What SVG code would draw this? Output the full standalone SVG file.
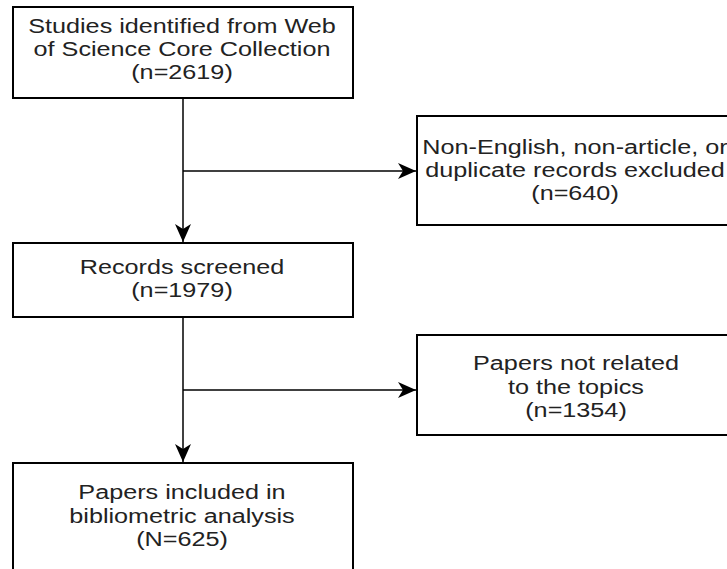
<svg xmlns="http://www.w3.org/2000/svg" width="727" height="569" viewBox="0 0 727 569">
<style>
.box{fill:#ffffff;stroke:#000000;stroke-width:2}
.edge{fill:none;stroke:#000000;stroke-width:1.5}
.t{font-family:"Liberation Sans",Arial,sans-serif;font-size:21px;fill:#222222;text-anchor:middle}
</style>
<defs>
<marker id="arr" markerUnits="userSpaceOnUse" markerWidth="20" markerHeight="18" refX="18" refY="8" orient="auto" viewBox="0 0 20 16">
<path d="M0,0 L18,8 L0,16 L5,8 Z" fill="#000000"/>
</marker>
</defs>
<rect width="727" height="569" fill="#ffffff"/>
<g id="connectors">
<line class="edge" x1="183" y1="98" x2="183" y2="242" marker-end="url(#arr)"/>
<line class="edge" x1="183" y1="171" x2="416" y2="171" marker-end="url(#arr)"/>
<line class="edge" x1="183" y1="317" x2="183" y2="462" marker-end="url(#arr)"/>
<line class="edge" x1="183" y1="390" x2="416" y2="390" marker-end="url(#arr)"/>
</g>
<g id="n1">
<rect class="box" x="13" y="7" width="340" height="91"/>
<text class="t" transform="translate(182,33) scale(1.2,1)">Studies identified from Web</text>
<text class="t" transform="translate(182,56) scale(1.2,1)">of Science Core Collection</text>
<text class="t" transform="translate(182,79) scale(1.2,1)">(n=2619)</text>
</g>
<g id="n2">
<rect class="box" x="417" y="116" width="320" height="109"/>
<text class="t" transform="translate(575,154) scale(1.2,1)">Non-English, non-article, or</text>
<text class="t" transform="translate(575,177) scale(1.2,1)">duplicate records excluded</text>
<text class="t" transform="translate(575,200) scale(1.2,1)">(n=640)</text>
</g>
<g id="n3">
<rect class="box" x="13" y="243" width="340" height="74"/>
<text class="t" transform="translate(182,274) scale(1.2,1)">Records screened</text>
<text class="t" transform="translate(182,297) scale(1.2,1)">(n=1979)</text>
</g>
<g id="n4">
<rect class="box" x="417" y="335" width="320" height="100"/>
<text class="t" transform="translate(576,370) scale(1.2,1)">Papers not related</text>
<text class="t" transform="translate(576,394) scale(1.2,1)">to the topics</text>
<text class="t" transform="translate(576,417) scale(1.2,1)">(n=1354)</text>
</g>
<g id="n5">
<rect class="box" x="13" y="463" width="340" height="120"/>
<text class="t" transform="translate(182,499) scale(1.2,1)">Papers included in</text>
<text class="t" transform="translate(182,522.5) scale(1.2,1)">bibliometric analysis</text>
<text class="t" transform="translate(182,546) scale(1.2,1)">(N=625)</text>
</g>
</svg>
